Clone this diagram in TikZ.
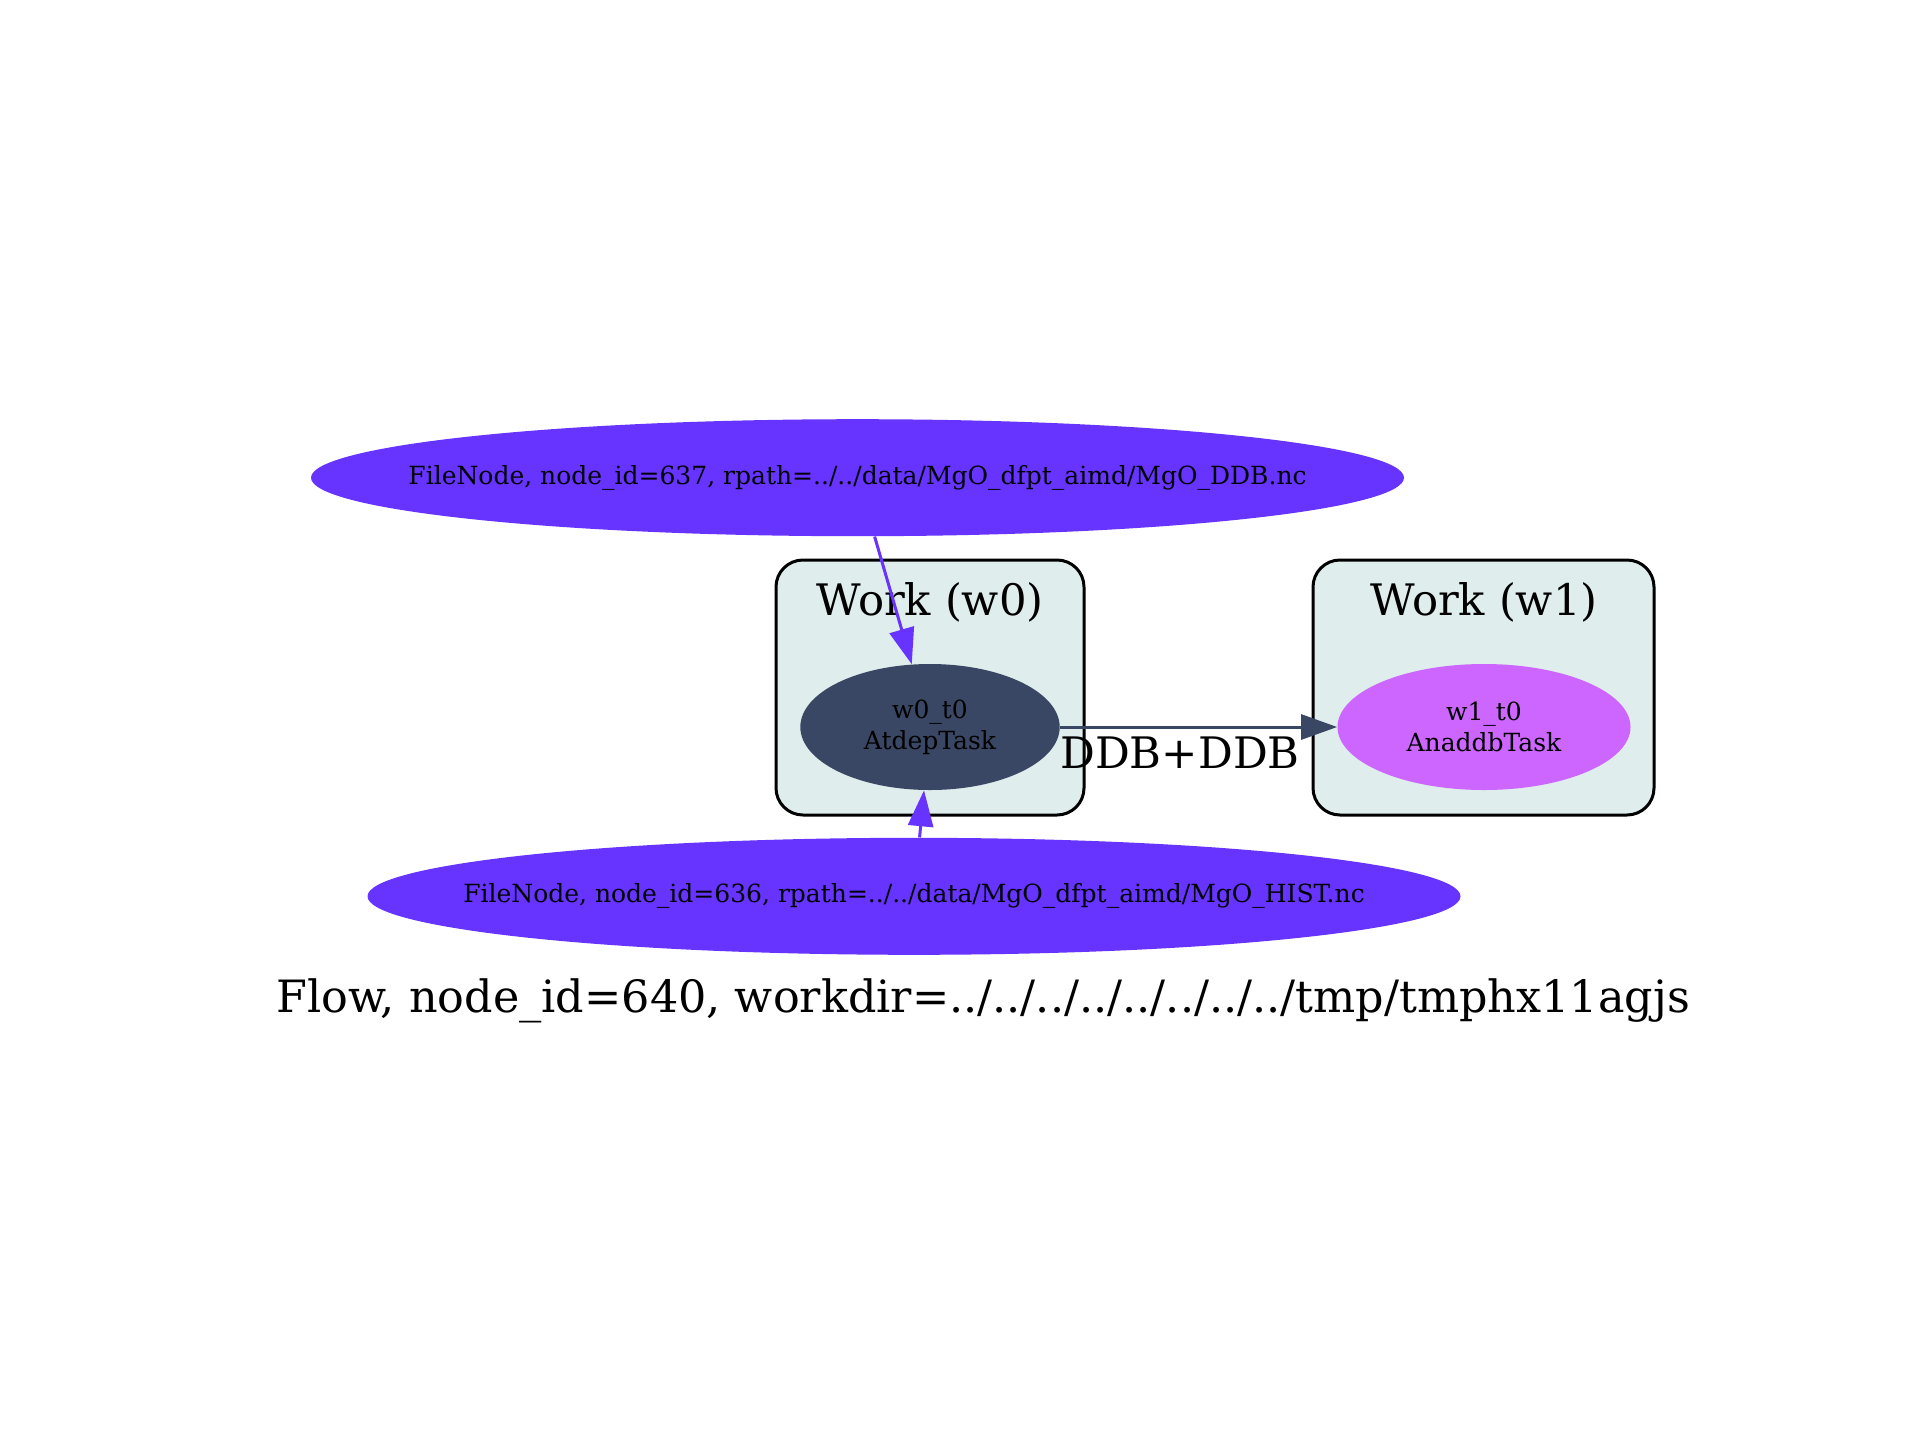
\documentclass[tikz,border=0pt]{standalone}
\usepackage{fontspec}
\setmainfont{DejaVu Serif}
\usetikzlibrary{shapes.geometric,arrows.meta}
\definecolor{fileviolet}{HTML}{6633FF}
\definecolor{atdepcol}{HTML}{394764}
\definecolor{anaddbcol}{HTML}{CC66FF}
\definecolor{clusterbg}{HTML}{E0EDED}
\newcommand\gvbig{\fontsize{21.7pt}{26pt}\selectfont}
\newcommand\gvcap{\fontsize{22.25pt}{26pt}\selectfont}
\newcommand\gvsmall{\fontsize{12.5pt}{15.35pt}\selectfont}
\begin{document}
\begin{tikzpicture}[x=0.5pt,y=-0.5pt,
  filenode/.style={ellipse, fill=fileviolet, draw=none, inner sep=0pt,
    minimum width=546.5pt, minimum height=58.5pt, font=\gvsmall},
  tasknode/.style={ellipse, draw=none, inner sep=0pt, minimum height=63pt,
    align=center, font=\gvsmall},
  cluster/.style={draw=black, fill=clusterbg, line width=1.5pt, rounded corners=13.5pt},
  biglabel/.style={font=\gvbig, inner sep=0pt, anchor=base},
  edge/.style={line width=1.5pt, -{Triangle[length=18pt,width=12.5pt]}}
]
\useasboundingbox (0,0) rectangle (1920,1440);
% clusters
\draw[cluster] (776,560) rectangle (1084,815);
\draw[cluster] (1313,560) rectangle (1654,815);
\node[biglabel] (lw0) at (930,615) {Work (w0)};
\node[biglabel] (lw1) at (1484,615) {Work (w1)};
% nodes
\node[filenode] (f637) at (857.5,477.7) {\makebox[0pt]{FileNode, node\_id=637, rpath=../../data/MgO\_dfpt\_aimd/MgO\_DDB.nc}};
\node[filenode] (f636) at (914,896.3) {\makebox[0pt]{FileNode, node\_id=636, rpath=../../data/MgO\_dfpt\_aimd/MgO\_HIST.nc}};
\node[tasknode, fill=atdepcol, minimum width=129.7pt] (w0t0) at (930,727) {w0\_t0\\AtdepTask};
\node[tasknode, fill=anaddbcol, minimum width=146.5pt] (w1t0) at (1484,727) {w1\_t0\\AnaddbTask};
% edges
\draw[edge, draw=fileviolet, fill=fileviolet] (f637) -- (w0t0);
\draw[edge, draw=fileviolet, fill=fileviolet] (f636) -- (w0t0);
\draw[edge, draw=atdepcol, fill=atdepcol] (w0t0) -- (w1t0);
\node[biglabel] (ddb) at (1180,768) {DDB+DDB};
% caption
\node[biglabel, font=\gvcap] (caption) at (983,1012) {Flow, node\_id=640, workdir=../../../../../../../../tmp/tmphx11agjs};
\end{tikzpicture}
\end{document}
